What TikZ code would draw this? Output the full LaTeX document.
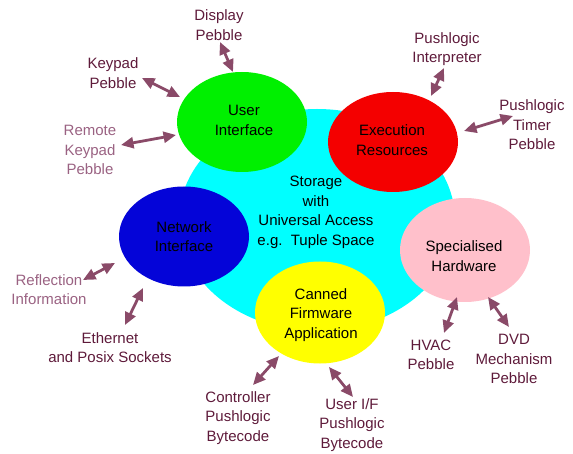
\documentclass[tikz,border=0pt]{standalone}
\usepackage{fontspec}
\setmainfont{Liberation Sans}
\usetikzlibrary{arrows.meta,shapes.geometric}
\definecolor{arr}{HTML}{8A4A68}
\definecolor{lab}{HTML}{5E1A3A}
\definecolor{lablight}{HTML}{9A6282}
\definecolor{cyanc}{HTML}{00FFFF}
\definecolor{greenc}{HTML}{00F000}
\definecolor{redc}{HTML}{F40000}
\definecolor{bluec}{HTML}{0404D8}
\definecolor{yellowc}{HTML}{FFFF00}
\definecolor{pinkc}{HTML}{FFC0CB}
\begin{document}
\begin{tikzpicture}[x=1pt,y=-1pt,
  blob/.style={ellipse,minimum width=130pt,minimum height=100pt,inner sep=0pt,align=center,text=black},
  txt/.style={align=center,text=lab,inner sep=0pt},
  txtl/.style={align=center,text=lablight,inner sep=0pt},
  link/.style={arr,line width=2.8pt,{Triangle[length=12.5pt,width=11pt]}-{Triangle[length=12.5pt,width=11pt]}},
  every node/.style={font=\fontsize{15}{19.5}\selectfont}]
\useasboundingbox (0,0) rectangle (573,454);
% storage
\node[ellipse,fill=cyanc,minimum width=276pt,minimum height=222pt,inner sep=0pt] (st) at (317,220) {};
\node[align=center,inner sep=0pt] (sttext) at (316,212.5) {Storage\\with\\Universal Access\\e.g.\ \ Tuple Space};
% blobs
\node[blob,fill=greenc] (ui) at (242,122) {};
\node[inner sep=0pt,align=center] (uit) at (244,120.5) {User\\Interface};
\node[blob,fill=redc] (ex) at (393,142) {};
\node[inner sep=0pt,align=center] (ext) at (392,140) {Execution\\Resources};
\node[blob,fill=bluec] (ni) at (184,236.5) {};
\node[inner sep=0pt,align=center] (nit) at (184,236.5) {Network\\Interface};
\node[blob,fill=yellowc,minimum height=102pt] (cf) at (320,312.5) {};
\node[inner sep=0pt,align=center] (cft) at (321,315) {Canned\\Firmware\\Application};
\node[blob,fill=pinkc,minimum height=104pt] (sh) at (465,250) {};
\node[inner sep=0pt,align=center] (sht) at (464,256) {Specialised\\Hardware};
% labels
\node[txt] (disp) at (219,25) {Display\\Pebble};
\node[txt] (keyp) at (113,73) {Keypad\\Pebble};
\node[txtl] (rkey) at (90,150) {Remote\\Keypad\\Pebble};
\node[txt] (pint) at (447,49) {Pushlogic\\Interpreter};
\node[txt] (ptim) at (532,125) {Pushlogic\\Timer\\Pebble};
\node[txtl] (refl) at (49,289.5) {Reflection\\Information};
\node[txt] (eth) at (110,347.5) {Ethernet\\and Posix Sockets};
\node[txt] (ctrl) at (238,418) {Controller\\Pushlogic\\Bytecode};
\node[txt] (uif) at (352,425) {User I/F\\Pushlogic\\Bytecode};
\node[txt] (hvac) at (431,355) {HVAC\\Pebble};
\node[txt] (dvd) at (514,359) {DVD\\Mechanism\\Pebble};
% arrow ends
\coordinate (d1) at (220,42); \coordinate (d2) at (233,72);
\coordinate (k1) at (142,78); \coordinate (k2) at (180,97);
\coordinate (r1) at (121,145); \coordinate (r2) at (176,135);
\coordinate (i1) at (444,68); \coordinate (i2) at (431,96);
\coordinate (t1) at (464,131); \coordinate (t2) at (513,116);
\coordinate (f1) at (83,280); \coordinate (f2) at (115,263);
\coordinate (e1) at (125,325); \coordinate (e2) at (143,288);
\coordinate (c1) at (253,385); \coordinate (c2) at (279,356);
\coordinate (u1) at (329,367); \coordinate (u2) at (353,397);
\coordinate (h1) at (457,297); \coordinate (h2) at (444,333);
\coordinate (v1) at (488,297); \coordinate (v2) at (509,327);
\draw[link] (d1) -- (d2);
\draw[link] (k1) -- (k2);
\draw[link] (r1) -- (r2);
\draw[link] (i1) -- (i2);
\draw[link] (t1) -- (t2);
\draw[link] (f1) -- (f2);
\draw[link] (e1) -- (e2);
\draw[link] (c1) -- (c2);
\draw[link] (u1) -- (u2);
\draw[link] (h1) -- (h2);
\draw[link] (v1) -- (v2);
\end{tikzpicture}
\end{document}
